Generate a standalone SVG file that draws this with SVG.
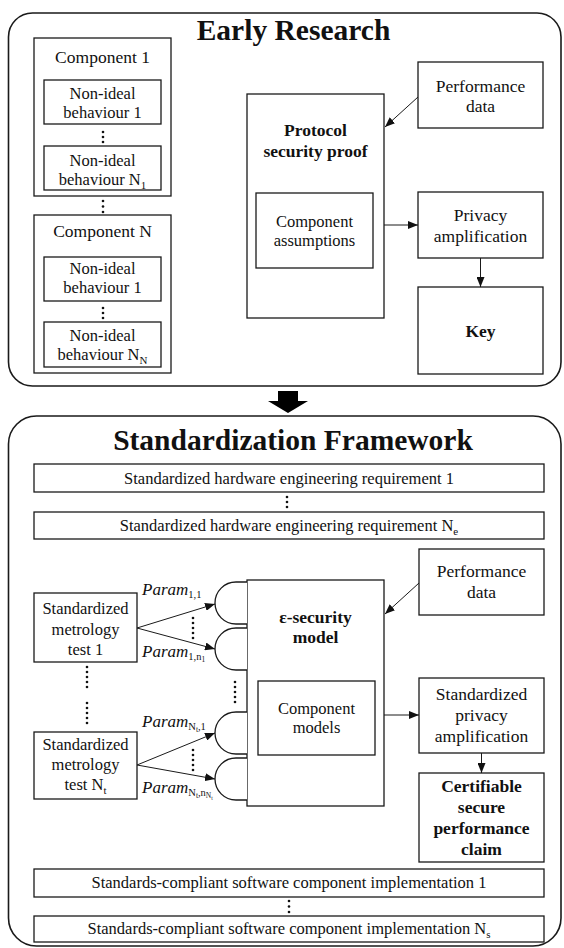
<svg xmlns="http://www.w3.org/2000/svg" width="564" height="948" viewBox="0 0 564 948">
<defs>
<style>
.box{fill:#fff;stroke:#1a1a1a;stroke-width:1.3}
.outer{fill:#fff;stroke:#1a1a1a;stroke-width:1.6}
.t{font-family:'Liberation Serif','Times New Roman',serif;font-size:16.5px;text-anchor:middle;fill:#111}
.l{font-size:17.5px}
.b{font-weight:bold;font-size:17.5px}
.title{font-weight:bold;font-size:29.5px}
.p{font-style:italic;font-size:17px;text-anchor:start}
.con{stroke:#1a1a1a;stroke-width:1;fill:none}
.dot{fill:#111}
</style>
<marker id="ah" markerUnits="userSpaceOnUse" markerWidth="10" markerHeight="8" refX="10" refY="4" orient="auto">
<path d="M0,0 L10,4 L0,8 z" fill="#111"/>
</marker>
</defs>

<g id="early-research">
<rect class="outer" x="8.5" y="13" width="552.5" height="373" rx="24"/>
<text class="t title" x="293.5" y="40">Early Research</text>
</g>

<g id="component-1">
<rect class="box" x="34" y="38" width="137" height="158"/>
<text class="t l" x="102.5" y="63">Component 1</text>
<rect class="box" x="44" y="80" width="117" height="44"/>
<text class="t" x="102.5" y="99">Non-ideal</text>
<text class="t" x="102.5" y="118">behaviour 1</text>
<circle class="dot" cx="103" cy="132" r="1.3"/><circle class="dot" cx="103" cy="137" r="1.3"/><circle class="dot" cx="103" cy="142" r="1.3"/>
<rect class="box" x="44" y="146" width="117" height="44"/>
<text class="t" x="102.5" y="166">Non-ideal</text>
<text class="t" x="102.5" y="185">behaviour N<tspan font-size="11" dy="4">1</tspan></text>
</g>

<g id="component-dots">
<circle class="dot" cx="103" cy="201" r="1.3"/><circle class="dot" cx="103" cy="206.5" r="1.3"/><circle class="dot" cx="103" cy="212" r="1.3"/>
</g>

<g id="component-n">
<rect class="box" x="34" y="215" width="137" height="158"/>
<text class="t l" x="102.5" y="237">Component N</text>
<rect class="box" x="44" y="257" width="117" height="44"/>
<text class="t" x="102.5" y="274">Non-ideal</text>
<text class="t" x="102.5" y="293">behaviour 1</text>
<circle class="dot" cx="103" cy="308" r="1.3"/><circle class="dot" cx="103" cy="313" r="1.3"/><circle class="dot" cx="103" cy="318" r="1.3"/>
<rect class="box" x="44" y="322" width="117" height="45"/>
<text class="t" x="102.5" y="341">Non-ideal</text>
<text class="t" x="102.5" y="360">behaviour N<tspan font-size="11" dy="4">N</tspan></text>
</g>

<g id="protocol-proof">
<rect class="box" x="247" y="94" width="137" height="224"/>
<text class="t b" x="315.5" y="136">Protocol</text>
<text class="t b" x="315.5" y="157">security proof</text>
</g>
<g id="component-assumptions">
<rect class="box" x="256" y="193" width="117" height="75"/>
<text class="t" x="314.5" y="227">Component</text>
<text class="t" x="314.5" y="246">assumptions</text>
</g>
<g id="performance-data-1">
<rect class="box" x="418" y="62" width="125" height="66"/>
<text class="t l" x="480.5" y="92">Performance</text>
<text class="t l" x="480.5" y="112">data</text>
</g>
<g id="privacy-amplification">
<rect class="box" x="418" y="192" width="125" height="66"/>
<text class="t l" x="480.5" y="221">Privacy</text>
<text class="t l" x="480.5" y="242">amplification</text>
</g>
<g id="key">
<rect class="box" x="418" y="287" width="125" height="87"/>
<text class="t b" x="480.5" y="337">Key</text>
</g>

<g id="transition-arrow">
<polygon points="278,391 298,391 298,401 308,401 288,413 268,401 278,401" fill="#000"/>
</g>

<g id="standardization-framework">
<rect class="outer" x="8.5" y="416" width="552.5" height="530" rx="28"/>
<text class="t title" x="293" y="450">Standardization Framework</text>
</g>

<g id="hw-req-1">
<rect class="box" x="34" y="464" width="510" height="28"/>
<text class="t" x="289" y="484">Standardized hardware engineering requirement 1</text>
</g>
<g id="hw-dots">
<circle class="dot" cx="287" cy="497" r="1.3"/><circle class="dot" cx="287" cy="502" r="1.3"/><circle class="dot" cx="287" cy="507" r="1.3"/>
</g>
<g id="hw-req-n">
<rect class="box" x="34" y="512" width="510" height="27"/>
<text class="t" x="289" y="531">Standardized hardware engineering requirement N<tspan font-size="11" dy="4">e</tspan></text>
</g>

<g id="metrology-test-1">
<rect class="box" x="34" y="593" width="103" height="69"/>
<text class="t" x="85.5" y="614">Standardized</text>
<text class="t" x="85.5" y="635">metrology</text>
<text class="t" x="85.5" y="655">test 1</text>
</g>
<g id="metrology-dots">
<circle class="dot" cx="87" cy="667" r="1.3"/><circle class="dot" cx="87" cy="672" r="1.3"/><circle class="dot" cx="87" cy="677" r="1.3"/><circle class="dot" cx="87" cy="682" r="1.3"/><circle class="dot" cx="87" cy="687" r="1.3"/>
<circle class="dot" cx="87" cy="703" r="1.3"/><circle class="dot" cx="87" cy="708" r="1.3"/><circle class="dot" cx="87" cy="713" r="1.3"/><circle class="dot" cx="87" cy="718" r="1.3"/><circle class="dot" cx="87" cy="723" r="1.3"/>
</g>
<g id="metrology-test-n">
<rect class="box" x="34" y="732" width="103" height="67"/>
<text class="t" x="85.5" y="750">Standardized</text>
<text class="t" x="85.5" y="770">metrology</text>
<text class="t" x="85.5" y="790">test N<tspan font-size="11" dy="4">t</tspan></text>
</g>

<g id="epsilon-model">
<rect class="box" x="247" y="580" width="137" height="226"/>
<text class="t b" x="315.5" y="623">ε-security</text>
<text class="t b" x="315.5" y="643">model</text>
</g>
<g id="component-models">
<rect class="box" x="258" y="681" width="117" height="74"/>
<text class="t" x="316.5" y="714">Component</text>
<text class="t" x="316.5" y="733">models</text>
</g>

<g id="ports">
<path class="box" d="M247,582 H236 A21,21 0 0 0 236,624 H247"/>
<path class="box" d="M247,628 H236 A21,21 0 0 0 236,670 H247"/>
<path class="box" d="M247,712 H236 A21,21 0 0 0 236,754 H247"/>
<path class="box" d="M247,758 H236 A21,21 0 0 0 236,800 H247"/>
<circle class="dot" cx="235" cy="682" r="1.3"/><circle class="dot" cx="235" cy="687" r="1.3"/><circle class="dot" cx="235" cy="692" r="1.3"/><circle class="dot" cx="235" cy="697" r="1.3"/><circle class="dot" cx="235" cy="702" r="1.3"/>
</g>

<g id="param-labels">
<text class="t p" x="142" y="595">Param<tspan font-style="normal" font-size="10.5" dy="3">1,1</tspan></text>
<text class="t p" x="142" y="657">Param<tspan font-style="normal" font-size="10.5" dy="3">1,n</tspan><tspan font-style="normal" font-size="7.5" dy="2">1</tspan></text>
<text class="t p" x="142" y="727">Param<tspan font-style="normal" font-size="10.5" dy="3">N</tspan><tspan font-style="normal" font-size="7.5" dy="2">t</tspan><tspan font-style="normal" font-size="10.5" dy="-2">,1</tspan></text>
<text class="t p" x="142" y="793">Param<tspan font-style="normal" font-size="10.5" dy="3">N</tspan><tspan font-style="normal" font-size="7.5" dy="2">t</tspan><tspan font-style="normal" font-size="10.5" dy="-2">,n</tspan><tspan font-style="normal" font-size="7.5" dy="2">N</tspan><tspan font-style="normal" font-size="5.5" dy="1.5">t</tspan></text>
<circle class="dot" cx="193" cy="618" r="1.3"/><circle class="dot" cx="193" cy="623" r="1.3"/><circle class="dot" cx="193" cy="628" r="1.3"/><circle class="dot" cx="193" cy="633" r="1.3"/><circle class="dot" cx="193" cy="638" r="1.3"/>
<circle class="dot" cx="193" cy="750" r="1.3"/><circle class="dot" cx="193" cy="755" r="1.3"/><circle class="dot" cx="193" cy="760" r="1.3"/><circle class="dot" cx="193" cy="765" r="1.3"/><circle class="dot" cx="193" cy="770" r="1.3"/>
</g>

<g id="performance-data-2">
<rect class="box" x="419" y="549" width="125" height="66"/>
<text class="t l" x="481.5" y="577">Performance</text>
<text class="t l" x="481.5" y="598">data</text>
</g>
<g id="std-privacy-amplification">
<rect class="box" x="419" y="678" width="125" height="75"/>
<text class="t l" x="481.5" y="700">Standardized</text>
<text class="t l" x="481.5" y="721">privacy</text>
<text class="t l" x="481.5" y="742">amplification</text>
</g>
<g id="certifiable-claim">
<rect class="box" x="419" y="773" width="125" height="89"/>
<text class="t b" x="481.5" y="792">Certifiable</text>
<text class="t b" x="481.5" y="813">secure</text>
<text class="t b" x="481.5" y="834">performance</text>
<text class="t b" x="481.5" y="855">claim</text>
</g>

<g id="sw-impl-1">
<rect class="box" x="34" y="869" width="510" height="28"/>
<text class="t" x="289" y="888">Standards-compliant software component implementation 1</text>
</g>
<g id="sw-dots">
<circle class="dot" cx="289" cy="901" r="1.3"/><circle class="dot" cx="289" cy="906.5" r="1.3"/><circle class="dot" cx="289" cy="912" r="1.3"/>
</g>
<g id="sw-impl-n">
<rect class="box" x="34" y="916" width="510" height="26"/>
<text class="t" x="289" y="934">Standards-compliant software component implementation N<tspan font-size="11" dy="4">s</tspan></text>
</g>

<g id="connectors">
<line class="con" x1="418" y1="97" x2="385" y2="127" marker-end="url(#ah)"/>
<line class="con" x1="384" y1="225" x2="418" y2="225" marker-end="url(#ah)"/>
<line class="con" x1="480.5" y1="258" x2="480.5" y2="287" marker-end="url(#ah)"/>
<line class="con" x1="419" y1="583" x2="385" y2="614" marker-end="url(#ah)"/>
<line class="con" x1="384" y1="715" x2="419" y2="715" marker-end="url(#ah)"/>
<line class="con" x1="481.5" y1="753" x2="481.5" y2="773" marker-end="url(#ah)"/>
<line class="con" x1="137" y1="628" x2="215" y2="604" marker-end="url(#ah)"/>
<line class="con" x1="137" y1="628" x2="215" y2="649" marker-end="url(#ah)"/>
<line class="con" x1="137" y1="765" x2="215" y2="733" marker-end="url(#ah)"/>
<line class="con" x1="137" y1="765" x2="215" y2="779" marker-end="url(#ah)"/>
</g>
</svg>
